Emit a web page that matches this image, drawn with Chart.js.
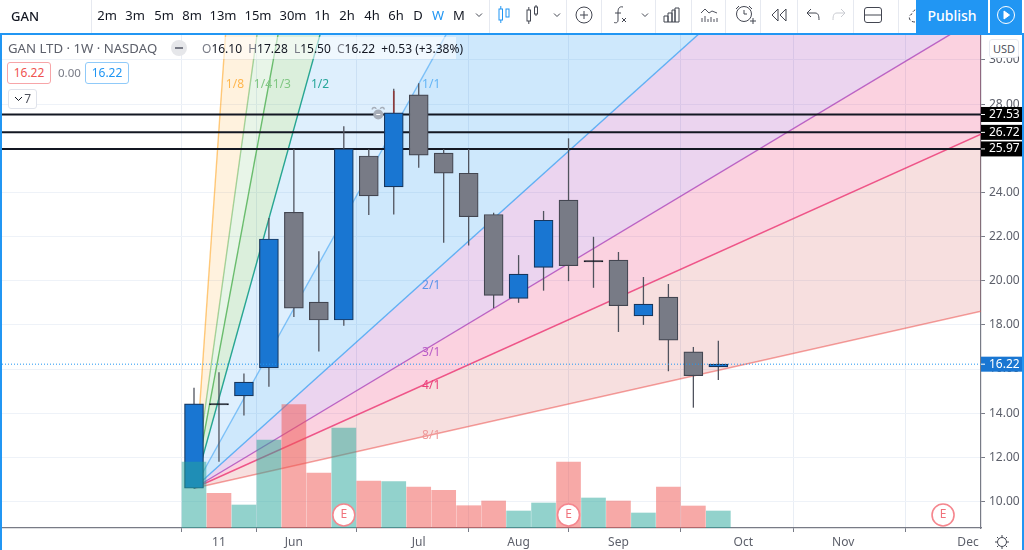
<!DOCTYPE html>
<html><head><meta charset="utf-8">
<style>
html,body{margin:0;padding:0;background:#fff;overflow:hidden;width:1024px;height:550px;font-family:"Noto Sans",sans-serif}
#c{position:absolute;left:0;top:0}
.abs{position:absolute;white-space:nowrap}
.tb{position:absolute;top:0;height:33px;line-height:31px;font-size:13px;color:#131722;transform:translateX(-50%);white-space:nowrap}
.sep{position:absolute;top:0;height:33px;width:1px;background:#e6e9f0}
.fr{position:absolute;background:#2196f3}
svg{position:absolute;overflow:visible}
svg *{fill:none;stroke:#434651;stroke-width:1}
.box{position:absolute;border-radius:3px;background:#fff;font-size:12px;text-align:center;box-sizing:border-box}
</style></head><body>
<canvas id="c" width="1024" height="550"></canvas>

<div class="fr" style="left:0;top:33px;width:1024px;height:2px"></div>
<div class="fr" style="left:0;top:33px;width:2px;height:517px"></div>
<div class="fr" style="left:1022px;top:33px;width:2px;height:517px"></div>

<div class="abs" style="left:11px;top:6px;font-size:13px;color:#131722;font-weight:500;line-height:20px">GAN</div>
<div class="sep" style="left:91px"></div><div class="sep" style="left:489px"></div><div class="sep" style="left:566px"></div>
<div class="sep" style="left:601px"></div><div class="sep" style="left:655px"></div><div class="sep" style="left:691px"></div>
<div class="sep" style="left:725px"></div><div class="sep" style="left:760px"></div><div class="sep" style="left:797px"></div>
<div class="sep" style="left:853px"></div><div class="sep" style="left:898px"></div>
<div id="tbar"></div>

<svg style="left:0;top:0" width="1024" height="33">
 <g transform="translate(479,15)"><path d="M-3 -1.5 L0 1.5 L3 -1.5"/></g>
 <g transform="translate(502,15)"><rect x="-3" y="-6" width="3.5" height="11" style="stroke:#2196f3"/><path d="M-1.2 -9V-6M-1.2 5V8" style="stroke:#2196f3"/><rect x="4" y="-6" width="3" height="8" style="stroke:#2196f3"/></g>
 <g transform="translate(530,15)"><rect x="-3" y="-5" width="3.5" height="11"/><path d="M-1.2 -8V-5M-1.2 6V9"/><rect x="4.5" y="-8" width="3" height="7"/><path d="M6 -10V-8M6 -1V1"/></g>
 <g transform="translate(557,15)"><path d="M-3 -1.5 L0 1.5 L3 -1.5"/></g>
 <g transform="translate(584,15)"><circle r="8"/><path d="M-4 0H4M0 -4V4"/></g>
 <g transform="translate(618,15)"><path d="M5 -8C1 -9 0 -6 0 -3V5C0 8 -2 8 -4 7.5M-3 -2H3M4 3L8 7M8 3L4 7"/></g>
 <g transform="translate(645,15)"><path d="M-3 -1.5 L0 1.5 L3 -1.5"/></g>
 <g transform="translate(672,15)"><path d="M-8 7V1H-4V7ZM-4 7V-2H0V7ZM0 7V-5H3V7ZM3 7V-7H7V7Z"/></g>
 <g transform="translate(709,15)"><path d="M-8 -2L-4 -6L0 -2L3 -4L8 -2M-7 7V3M-4 7V1M-1 7V4M2 7V2M5 7V4M8 7V3" style="stroke:#50535e"/></g>
 <g transform="translate(744,15)"><circle r="7.5" cy="-1"/><path d="M0 -5V-1H3M-8 -6L-5 -9M8 -6L5 -9M6 6H12M9 3V9"/></g>
 <g transform="translate(779,15)"><path d="M-1 -6L-7 0L-1 6ZM7 -6L1 0L7 6Z"/></g>
 <g transform="translate(813,15)"><path d="M-2 -6L-6 -2L-2 2M-6 -2H2C5 -2 6 0 6 5"/></g>
 <g transform="translate(839,15)"><path style="stroke:#c9cbd1" d="M2 -6L6 -2L2 2M6 -2H-2C-5 -2 -6 0 -6 5"/></g>
 <g transform="translate(873,15)"><rect x="-8.5" y="-7.5" width="17" height="15" rx="2.5"/><path d="M-8.5 0H8.5"/></g>
 <g transform="translate(920,15)"><path stroke-dasharray="3 2" d="M-5 7C-12 7 -12 0 -8 -1C-7 -6 -1 -7 1 -4C4 -5 8 -4 9 -1"/></g>
</svg>
<div class="abs" style="left:916px;top:0;width:72px;height:33px;background:#2196f3;color:#fff;font-size:14px;line-height:31px;text-align:center;font-weight:500">Publish</div>
<div class="abs" style="left:990px;top:0;width:32px;height:33px;background:#2196f3"></div>
<svg style="left:0;top:0" width="1024" height="33"><g transform="translate(1006,15)"><circle r="8.5" style="stroke:#fff"/><path d="M-2 -4L3.5 0L-2 4Z" style="fill:#fff;stroke:#fff"/></g></svg>

<div class="abs" style="left:8px;top:38px;font-size:13.2px;line-height:20px;color:#5d606b">GAN LTD · 1W · NASDAQ</div>
<div class="abs" style="left:171px;top:40px;width:16px;height:16px;border-radius:8px;background:#e6e7ea"></div>
<div class="abs" style="left:175px;top:47px;width:8px;height:2px;background:#787b86"></div>
<div class="abs" style="left:198px;top:37px;width:258px;height:22px;background:rgba(255,255,255,.55)"></div>
<div class="abs" style="left:202px;top:39px;font-size:12px;line-height:20px;color:#131722">
 <span style="color:#787b86">O</span>16.10 <span style="color:#787b86;margin-left:3px">H</span>17.28 <span style="color:#787b86;margin-left:3px">L</span>15.50 <span style="color:#787b86;margin-left:3px">C</span>16.22 <span style="margin-left:3px">+0.53 (+3.38%)</span></div>
<div class="box" style="left:7px;top:62px;width:44px;height:22px;line-height:20px;border:1px solid #f7a5a8;color:#ef5350">16.22</div>
<div class="abs" style="left:58px;top:63px;font-size:11.5px;line-height:20px;color:#787b86">0.00</div>
<div class="box" style="left:85px;top:62px;width:44px;height:22px;line-height:20px;border:1px solid #90caf9;color:#2196f3">16.22</div>
<div class="box" style="left:8px;top:89px;width:29px;height:20px;line-height:18px;border:1px solid #e0e3eb;color:#50535e;font-size:12px;text-align:right;padding-right:5px">7</div>
<svg style="left:0;top:0" width="60" height="120"><path d="M15 97L18.5 100.5L22 97" style="stroke:#131722"/></svg>
<div class="box" style="left:989px;top:39px;width:30px;height:19px;line-height:17px;border:1px solid #e6e9f0;color:#50535e;font-size:11px">USD</div>
<svg style="left:0;top:0" width="1024" height="550"><g transform="translate(1002,542)"><circle r="4.5"/><path d="M0 -7V-5M0 5V7M-7 0H-5M5 0H7M-5 -5L-3.5 -3.5M5 -5L3.5 -3.5M-5 5L-3.5 3.5M5 5L3.5 3.5"/></g></svg>

<script src="https://cdn.jsdelivr.net/npm/chart.js@4/dist/chart.umd.min.js"></script>
<script>
// ---- data ----
const weekIdx = [0,1,2,3,4,5,6,7,8,9,10,11,12,13,14,15,16,17,18,19,20,21];
const opens  = [10.6,14.43,14.78,16.05,23.1,19.03,18.22,25.65,24.25,28.42,25.78,24.87,23.0,19.2,20.6,23.65,20.91,20.93,18.41,19.26,16.78,16.10];
const closes = [14.42,14.37,15.41,21.89,18.76,18.22,25.97,23.84,27.6,25.69,24.87,22.9,19.34,20.3,22.74,20.68,20.85,18.87,18.94,17.31,15.7,16.22];
const highs  = [15.15,15.85,15.8,22.84,25.97,21.34,27.0,25.97,28.7,28.95,25.97,25.97,23.08,21.16,23.16,26.45,21.99,21.3,20.17,19.85,17.0,17.28];
const lows   = [10.6,11.8,13.9,15.2,18.36,16.8,17.96,22.98,23.0,25.12,21.72,21.6,18.76,19.0,19.55,19.98,19.68,17.68,18.0,15.9,14.25,15.5];
const volumes= [0.66,0.347,0.23,0.88,1.233,0.55,1.0,0.47,0.463,0.41,0.377,0.223,0.27,0.17,0.25,0.66,0.30,0.27,0.15,0.41,0.22,0.17];
const volUp  = [1,0,1,1,0,0,1,0,1,0,0,0,0,1,1,0,1,0,1,0,0,1];
const dojiIdx = [1,16];
const redWickIdx = [8], redWickLow = [27.6], redWickHigh = [28.6];

const levels = [27.53,26.72,25.97];
const lastPrice = 16.22;
const priceTicks = [10,12,14,16,18,20,22,24,26,28,30];
const timeTickIdx = [1,4,9,13,17,22,26,31];
const timeTickLabels = ['11','Jun','Jul','Aug','Sep','Oct','Nov','Dec'];
const earningsIdx = [6,15,30];
const earningsPrice = [9.39,9.39,9.39];

// Gann fan: all rays leave the same anchor and are read at the right edge
const fanOriginIdx = 0, fanOriginPrice = 10.6;
const fanNames = ['1/8','1/4','1/3','1/2','1/1','2/1','3/1','4/1','8/1'];
const fanEndPrice = [523.9,267.2,203.1,138.9,74.76,42.68,31.99,26.64,18.62];
const fanLabelIdx = [1.64,2.76,3.52,5.05,9.5,9.5,9.5,9.5,9.5];
const fanLabelPrice = [28.9,28.9,28.9,28.9,28.9,19.8,16.73,15.23,12.97];

// ---- styles ----
const fanLine = ['rgba(255,152,0,.5)','rgba(76,175,80,.5)','rgba(76,175,80,.8)','rgba(0,150,136,.85)','rgba(33,150,243,.5)','rgba(33,150,243,.65)','rgba(156,39,176,.65)','rgba(233,30,99,.7)','rgba(239,83,80,.55)'];
const fanFill = ['rgba(255,152,0,.13)','rgba(76,175,80,.13)','rgba(76,175,80,.2)','rgba(33,150,243,.15)','rgba(33,150,243,.22)','rgba(156,39,176,.2)','rgba(233,30,99,.2)','rgba(204,40,40,.15)',null];
const fanText = ['#ffb74d','#81c784','#81c784','#26a69a','#64b5f6','#5c94ea','#ba5cc8','#ec407a','#ef9a9a'];
const xMin=-7.69, xMax=31.52, yMin=8.8, yMax=31.13;
const isDoji=i=>dojiIdx.includes(i);

const datasets=[];
fanNames.forEach((n,i)=>datasets.push({type:'line',label:n,order:50,
  data:[{x:fanOriginIdx,y:fanOriginPrice},{x:xMax,y:fanEndPrice[i]}],
  borderColor:fanLine[i],borderWidth:1.4,pointRadius:0,tension:0,
  fill:fanFill[i]?{target:'+1',above:fanFill[i],below:fanFill[i]}:false,backgroundColor:fanFill[i]||'transparent'}));
levels.forEach(v=>datasets.push({type:'line',order:40,data:[{x:xMin,y:v},{x:xMax,y:v}],borderColor:'#131722',borderWidth:2,pointRadius:0,fill:false}));
datasets.push({type:'bar',order:31,grouped:false,barThickness:1.3,inflateAmount:0,backgroundColor:'#50535e',
  data:weekIdx.map((x,i)=>({x,y:[lows[i],highs[i]]}))});
datasets.push({type:'bar',order:30.5,grouped:false,barThickness:1.6,inflateAmount:0,backgroundColor:'#8e3a3a',
  data:redWickIdx.map((x,i)=>({x,y:[redWickLow[i],redWickHigh[i]]}))});
datasets.push({type:'bar',order:30,grouped:false,barThickness:19,
  data:weekIdx.map((x,i)=>({x,y:[opens[i],closes[i]]})),
  backgroundColor:weekIdx.map(i=>isDoji(i)?'#131722':closes[i]>opens[i]?'#1976d2':'#787b86'),
  borderColor:weekIdx.map(i=>isDoji(i)?'#131722':closes[i]>opens[i]?'#17365d':'#434651'),borderWidth:1.2,borderSkipped:false});
datasets.push({type:'bar',order:20,grouped:false,barThickness:24,yAxisID:'vol',
  data:weekIdx.map((x,i)=>({x,y:volumes[i]})),
  backgroundColor:volUp.map(u=>u?'rgba(38,166,154,.5)':'rgba(239,83,80,.5)')});
datasets.push({type:'line',order:10,showLine:false,data:earningsIdx.map((x,i)=>({x,y:earningsPrice[i]})),
  pointRadius:11,pointBackgroundColor:'#fff',pointBorderColor:'#f5868e',pointBorderWidth:1.6,fill:false});
datasets.push({type:'line',order:5,data:[{x:xMin,y:lastPrice},{x:xMax,y:lastPrice}],borderColor:'#2196f3',borderWidth:1,borderDash:[1,2],pointRadius:0,fill:false});

const font='"Noto Sans",sans-serif';
const overlay={id:'overlay',afterDraw(ch){
  const c=ch.ctx,X=ch.scales.x,Y=ch.scales.y,r=ch.chartArea.right;
  c.save();
  c.textBaseline='middle';
  c.font='12px '+font;c.textAlign='center';
  fanNames.forEach((n,i)=>{c.fillStyle=fanText[i];c.fillText(n,X.getPixelForValue(fanLabelIdx[i]),Y.getPixelForValue(fanLabelPrice[i]));});
  c.font='12px '+font;c.fillStyle='#f0737c';
  earningsIdx.forEach((x,i)=>c.fillText('E',X.getPixelForValue(x),Y.getPixelForValue(earningsPrice[i])));
  // alarm glyph on the top level
  const ax=X.getPixelForValue(7.38),ay=Y.getPixelForValue(levels[0]);
  c.fillStyle='#a6adb8';c.beginPath();c.arc(ax,ay,5,0,7);c.fill();
  c.strokeStyle='#a6adb8';c.lineWidth=1.5;
  c.beginPath();c.arc(ax-4,ay-5,2,Math.PI,Math.PI*1.9);c.stroke();
  c.beginPath();c.arc(ax+4,ay-5,2,Math.PI*1.1,0);c.stroke();
  c.fillStyle='#fff';c.fillRect(ax-2,ay-.5,4,1);
  // price tags
  c.textAlign='left';c.font='12px '+font;
  levels.forEach(v=>{const y=Y.getPixelForValue(v);
    c.fillStyle='#000';c.fillRect(r,y-7.5,41,15);
    c.fillStyle='#fff';c.fillRect(r,y-.5,4,1);c.fillText(v.toFixed(2),r+8,y);});
  const y=Y.getPixelForValue(lastPrice);
  c.fillStyle='#1976d2';c.fillRect(r,y-7.5,41,15);
  c.fillStyle='#fff';c.fillRect(r,y-.5,4,1);c.fillText(lastPrice.toFixed(2),r+8,y);
  c.restore();
}};

new Chart(document.getElementById('c'),{
  type:'bar',
  data:{datasets},
  plugins:[overlay],
  options:{responsive:false,animation:false,events:[],
    layout:{autoPadding:false,padding:{left:2,right:2,top:35,bottom:0}},
    plugins:{legend:{display:false},tooltip:{enabled:false},filler:{propagate:false}},
    scales:{
      x:{type:'linear',min:xMin,max:xMax,offset:false,
        afterBuildTicks:s=>{s.ticks=timeTickIdx.map(v=>({value:v}));},
        afterFit:s=>{s.height=22;},
        grid:{color:'#e9eef5',tickLength:4,tickColor:'#787b86'},border:{color:'#787b86',width:1.2},
        ticks:{autoSkip:false,maxRotation:0,minRotation:0,padding:3,color:'#5d606b',font:{family:font,size:12},
          callback:v=>timeTickLabels[timeTickIdx.indexOf(v)]}},
      y:{type:'linear',position:'right',min:yMin,max:yMax,
        afterBuildTicks:s=>{s.ticks=priceTicks.map(v=>({value:v}));},
        afterFit:s=>{s.width=41;},
        grid:{color:'#eef2f8',tickLength:4,tickColor:'#787b86'},border:{color:'#787b86',width:1.2},
        ticks:{padding:4,color:'#5d606b',font:{family:font,size:12},callback:v=>v.toFixed(2)}},
      vol:{type:'linear',display:false,min:0,max:4.93}
    }}
});

// toolbar intervals
const intervalNames=['2m','3m','5m','8m','13m','15m','30m','1h','2h','4h','6h','D','W','M'];
const intervalCenters=[107,135,164,192,223,258,293,322,347,372,396,418,438,459];
const tb=document.getElementById('tbar');
intervalNames.forEach((n,i)=>{const d=document.createElement('div');d.className='tb';d.textContent=n;d.style.left=intervalCenters[i]+'px';
  if(n==='W')d.style.color='#2196f3';tb.appendChild(d);});
</script>
</body></html>
